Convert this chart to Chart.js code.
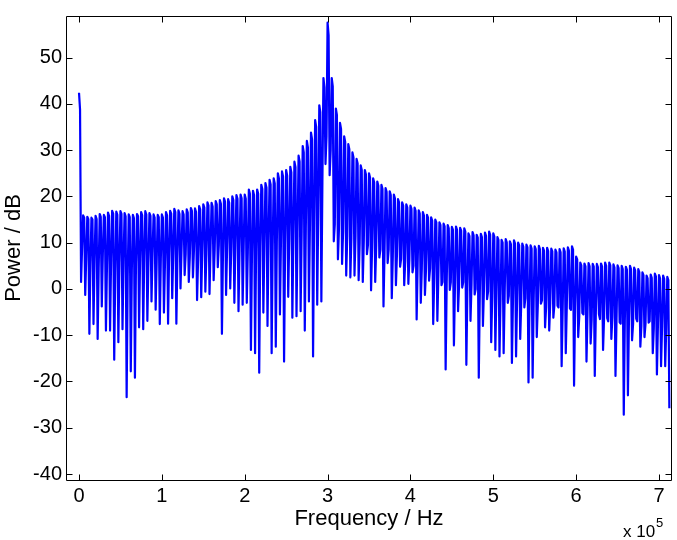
<!DOCTYPE html>
<html>
<head>
<meta charset="utf-8">
<title>Power spectrum</title>
<script src="https://cdn.jsdelivr.net/npm/chart.js@4.4.0/dist/chart.umd.min.js"></script>
<style>
  html, body { margin: 0; padding: 0; background: #fff; }
  canvas { display: block; }
</style>
</head>
<body>
<canvas id="chart" width="677" height="540"></canvas>
<script>
// comb spectrum: a harmonic every 5 kHz, four FFT bins per harmonic
const harmonicHz = 5000;
const binHz = 1250;

// level at each harmonic (dB)
const peakDb = [
  42.4, 15.9, 15.6, 15.4, 15.8, 16.2, 16.0, 16.5, 16.9, 16.7,
  16.8, 16.4, 16.1, 16.0, 16.2, 16.6, 16.8, 16.4, 16.1, 16.0,
  16.1, 16.6, 16.9, 17.3, 17.0, 16.8, 17.2, 17.5, 17.4, 17.9,
  18.3, 18.7, 18.6, 19.0, 19.2, 19.6, 19.4, 20.0, 20.3, 20.4,
  20.4, 21.5, 21.2, 21.5, 22.5, 22.9, 23.6, 23.9, 25.0, 25.4,
  25.7, 26.4, 27.5, 28.8, 30.9, 32.0, 33.8, 36.5, 39.7, 45.6,
  57.6, 45.6, 39.0, 35.9, 33.0, 31.3, 29.5, 28.1, 26.7, 25.7,
  25.0, 23.9, 23.2, 22.5, 21.8, 21.1, 20.4, 19.4, 18.7, 18.3,
  18.0, 17.6, 17.0, 16.6, 16.0, 15.5, 15.0, 14.4, 14.1, 13.8,
  13.4, 13.5, 13.2, 13.1, 12.0, 12.3, 11.7, 11.9, 12.2, 12.4,
  12.0, 11.2, 10.6, 10.8, 10.3, 10.5, 10.0, 9.8, 9.6, 9.4,
  9.2, 9.3, 8.9, 8.9, 8.7, 8.5, 8.6, 8.8, 9.0, 9.2,
  7.0, 5.7, 5.5, 5.6, 5.4, 5.4, 5.5, 5.7, 5.7, 5.3,
  5.1, 5.0, 4.8, 5.0, 4.6, 4.3, 3.6, 2.9, 3.1, 3.3,
  3.0, 2.9, 2.6
];

// second bin, just after each harmonic
const shoulderDb = [
  38.8, 15.4, 15.1, 15.0, 15.1, 15.6, 15.5, 15.8, 16.3, 16.0,
  16.2, 15.7, 15.5, 15.3, 15.7, 15.9, 16.1, 15.8, 15.4, 15.5,
  15.4, 15.9, 16.3, 16.6, 16.2, 16.1, 16.5, 16.9, 16.6, 17.2,
  17.6, 18.0, 17.8, 18.3, 18.4, 18.9, 18.6, 19.2, 19.5, 19.6,
  19.5, 20.6, 20.3, 20.6, 21.6, 21.9, 22.6, 22.8, 23.9, 24.3,
  24.5, 25.2, 26.3, 27.5, 29.5, 30.6, 32.4, 35.0, 38.2, 43.5,
  54.8, 43.8, 37.6, 34.6, 31.8, 30.2, 28.4, 27.1, 25.7, 24.8,
  24.1, 23.0, 22.3, 21.6, 21.0, 20.3, 19.6, 18.7, 18.0, 17.6,
  17.3, 16.9, 16.3, 15.9, 15.4, 14.8, 14.4, 13.8, 13.5, 13.1,
  12.8, 12.8, 12.6, 12.4, 11.4, 11.6, 11.1, 11.2, 11.5, 11.7,
  11.3, 10.6, 10.0, 10.1, 9.7, 9.8, 9.4, 9.1, 9.0, 8.7,
  8.6, 8.6, 8.3, 8.2, 8.1, 7.9, 7.9, 8.1, 8.3, 8.5,
  6.4, 5.1, 4.9, 4.9, 4.8, 4.7, 4.9, 5.0, 5.1, 4.6,
  4.5, 4.3, 4.2, 4.3, 4.0, 3.6, 3.0, 2.3, 2.4, 2.7,
  2.3, 2.2, 1.9
];

// third bin, the notch between harmonics
const dipDb = [
  1.5, -1.3, -9.7, -7.6, -10.8, -3.8, -9.0, -9.0, -15.3, -11.5,
  -8.7, -23.4, -17.8, -19.2, -8.3, -8.7, -6.9, -2.7, -4.5, -7.6,
  -5.1, -7.5, -2.0, -7.5, 0.1, 3.0, 1.5, 2.5, -2.4, -1.8,
  -0.6, -1.1, 1.9, 4.7, -9.7, -1.3, 0.1, -3.0, -4.8, -3.4,
  -3.0, -13.2, -13.9, -18.1, -5.1, -8.0, -13.9, -12.5, -5.5, -15.7,
  -1.7, -6.2, -5.9, -4.8, -9.0, -2.7, -14.6, -3.4, -2.7, 27.0,
  24.6, 10.3, 6.4, 5.4, 2.9, 2.5, 2.9, 1.9, 1.5, 7.5,
  -0.3, 1.5, 6.8, -3.8, 5.6, -2.0, 0.8, 4.8, 0.8, 1.1,
  3.6, -6.6, -3.0, -1.3, 1.8, -7.6, -6.9, 0.8, -17.4, -0.2,
  -12.2, -4.8, 0.3, -16.4, -6.9, -1.2, -19.2, -8.0, -2.2, -11.5,
  -13.2, -14.6, -13.9, -3.0, -16.0, -14.6, -10.8, -4.0, -20.2, -19.2,
  -10.4, -3.2, -8.3, -9.0, -6.2, -3.6, -16.7, -13.9, -4.2, -20.9,
  -10.4, -5.2, -15.7, -11.8, -18.8, -5.4, -13.2, -6.3, -10.8, -18.8,
  -7.2, -27.2, -23.0, -11.1, -6.4, -12.5, -10.4, -7.3, -13.9, -18.5,
  -16.7, -16.7, -25.8
];

// fourth bin, climbing back toward the next harmonic
const floorDb = [
  9, 7, 5, 6, 4.5, 7.5, 5, 6.5, 3.5, 5.5,
  6, 2.5, 4, 5.5, 6.5, 7, 5.5, 7.5, 6, 6.5,
  5.5, 7.5, 8, 6.5, 8.5, 7.5, 7, 8.5, 6.5, 8,
  7.5, 9, 8.5, 9.5, 7.5, 9, 8.5, 9.5, 8.5, 9,
  8, 7.5, 8.5, 9, 9.5, 10.5, 9, 10, 10.5, 9.5,
  11, 11.5, 12, 12.5, 13, 14, 14.5, 16.5, 23, 33,
  30, 14, 13, 12.5, 11.5, 11, 11.5, 10, 10.5, 9.5,
  9, 9.5, 8.5, 8, 8.5, 7, 7.5, 6.5, 6, 6.5,
  5, 5.5, 4.5, 4, 4.5, 2.5, 3, 1.5, 1, 1.5,
  0.5, 1, 1.5, 0, 1, 0, -1, 0, -0.5, -1.5,
  -1, -2, -1, -1.5, -2.5, -2, -3, -2, -3, -2.5,
  -3.5, -2.5, -4, -3, -3.5, -4, -4.5, -3.5, -4.5, -4,
  -6, -5.5, -5, -6.5, -5.5, -6.5, -6, -7, -6, -6.5,
  -7.5, -7, -6.5, -7.5, -7, -8, -7.5, -7, -8.5, -7.5,
  -8, -8.5
];

const xTicks = [0, 100000, 200000, 300000, 400000, 500000, 600000, 700000];
const yTicks = [-40, -30, -20, -10, 0, 10, 20, 30, 40, 50];

const points = [];
peakDb.forEach((p, k) => {
  const f = k * harmonicHz;
  points.push({ x: f, y: p });
  if (k < shoulderDb.length) points.push({ x: f + binHz, y: shoulderDb[k] });
  if (k < dipDb.length) points.push({ x: f + 2 * binHz, y: dipDb[k] });
  if (k < floorDb.length) points.push({ x: f + 3 * binHz, y: floorDb[k] });
});

const FONT = '"Liberation Sans", Arial, Helvetica, sans-serif';

// MATLAB style frame: full box, ticks pointing inwards, exponent label
const axesBox = {
  id: 'axesBox',
  afterDraw(chart) {
    const { ctx, chartArea: a, scales: { x, y } } = chart;
    const len = 6;
    ctx.save();
    ctx.strokeStyle = '#000';
    ctx.lineWidth = 1;
    ctx.beginPath();
    const L = Math.round(a.left) + 0.5, R = Math.round(a.right) - 0.5;
    const T = Math.round(a.top) + 0.5, B = Math.round(a.bottom) + 0.5;
    ctx.rect(L, T, R - L, B - T);
    xTicks.forEach(v => {
      const px = Math.round(x.getPixelForValue(v)) + 0.5;
      ctx.moveTo(px, B); ctx.lineTo(px, B - len);
      ctx.moveTo(px, T); ctx.lineTo(px, T + len);
    });
    yTicks.forEach(v => {
      const py = Math.round(y.getPixelForValue(v)) + 0.5;
      ctx.moveTo(L, py); ctx.lineTo(L + len, py);
      ctx.moveTo(R, py); ctx.lineTo(R - len, py);
    });
    ctx.stroke();

    ctx.fillStyle = '#000';
    ctx.textBaseline = 'alphabetic';
    ctx.textAlign = 'left';
    ctx.font = '17px ' + FONT;
    ctx.fillText('x 10', 623, 537);
    ctx.font = '13px ' + FONT;
    ctx.fillText('5', 656, 527);
    ctx.restore();
  }
};

new Chart(document.getElementById('chart').getContext('2d'), {
  type: 'line',
  data: {
    datasets: [{
      data: points,
      borderColor: '#0000ff',
      borderWidth: 2.2,
      borderJoinStyle: 'round',
      pointRadius: 0,
      tension: 0,
      fill: false,
    }],
  },
  options: {
    responsive: false,
    animation: false,
    devicePixelRatio: 1,
    events: [],
    layout: { padding: { top: 3, right: 5, left: 0, bottom: 0 } },
    plugins: { legend: { display: false }, tooltip: { enabled: false } },
    scales: {
      x: {
        type: 'linear',
        min: -15700,
        max: 715700,
        afterBuildTicks: s => { s.ticks = xTicks.map(v => ({ value: v })); },
        afterFit: s => { s.height = 60; },
        grid: { display: false, drawTicks: false },
        border: { display: false },
        ticks: {
          autoSkip: false,
          maxRotation: 0,
          padding: 4,
          color: '#000',
          font: { family: FONT, size: 20 },
          callback: v => String(v / 100000),
        },
        title: {
          display: true,
          text: 'Frequency / Hz',
          color: '#000',
          font: { family: FONT, size: 22 },
          padding: { top: 0, bottom: 8 },
        },
      },
      y: {
        min: -41.3,
        max: 59,
        afterBuildTicks: s => { s.ticks = yTicks.map(v => ({ value: v })); },
        afterFit: s => { s.width = 66; },
        grid: { display: false, drawTicks: false },
        border: { display: false },
        ticks: {
          autoSkip: false,
          padding: 4,
          color: '#000',
          font: { family: FONT, size: 20 },
        },
        title: {
          display: true,
          text: 'Power / dB',
          color: '#000',
          font: { family: FONT, size: 22 },
          padding: { top: 1, bottom: 0 },
        },
      },
    },
  },
  plugins: [axesBox],
});
</script>
</body>
</html>
